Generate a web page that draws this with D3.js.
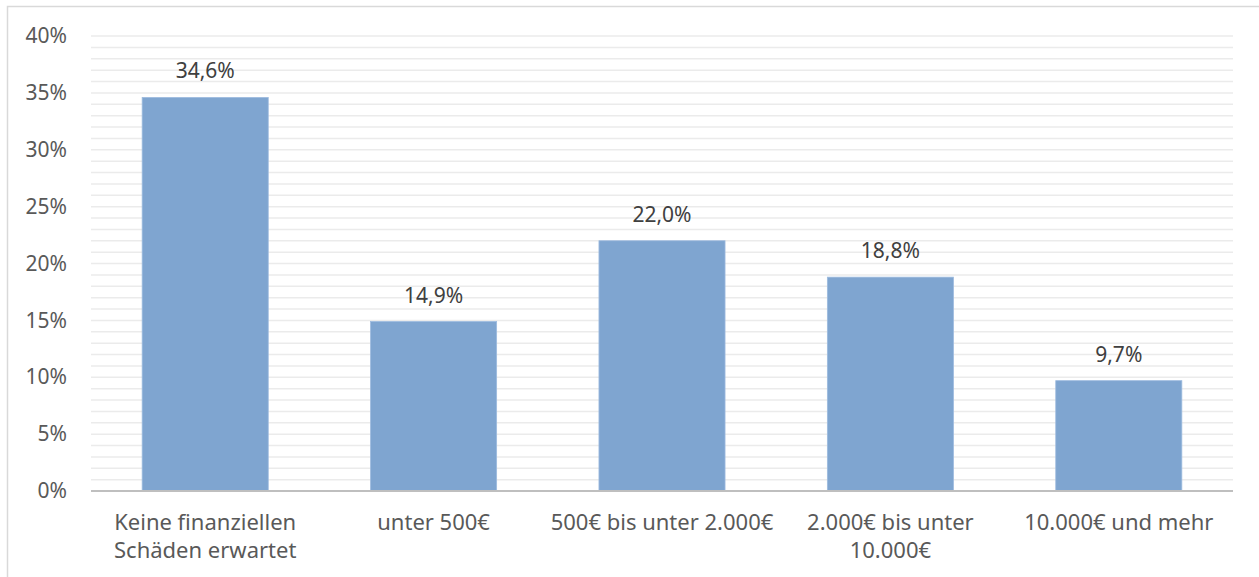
<!DOCTYPE html>
<html><head><meta charset="utf-8">
<script src="https://cdn.jsdelivr.net/npm/d3@7"></script>
<style>body{margin:0;background:#fff}svg{display:block}</style>
</head><body>
<script>
const categories = [["Keine finanziellen","Schäden erwartet"],["unter 500€"],["500€ bis unter 2.000€"],["2.000€ bis unter","10.000€"],["10.000€ und mehr"]];
const values = [34.6, 14.9, 22.0, 18.8, 9.7];
const valueLabels = ["34,6%","14,9%","22,0%","18,8%","9,7%"];
const yTicks = [0,5,10,15,20,25,30,35,40];

const W=1259,H=577;
const svg=d3.select("body").append("svg").attr("width",W).attr("height",H);
svg.append("rect").attr("x",7.5).attr("y",6.5).attr("width",W).attr("height",H).attr("fill","#fff").attr("stroke","#d9d9d9").attr("stroke-width",1.5);

const font="'Noto Sans', sans-serif";
const x=d3.scaleBand().domain(d3.range(categories.length)).range([91,1233]).paddingInner(0.448).paddingOuter(0.224);
const y=d3.scaleLinear().domain([0,40]).range([491,36]);

// gridlines every 1%
svg.append("g").selectAll("line").data(d3.range(1,41)).join("line")
 .attr("x1",91).attr("x2",1233).attr("y1",d=>y(d)).attr("y2",d=>y(d))
 .attr("stroke","#ebebeb").attr("stroke-width",1.5);

svg.append("g").selectAll("rect").data(values).join("rect")
 .attr("x",(d,i)=>x(i)).attr("width",x.bandwidth())
 .attr("y",d=>y(d)).attr("height",d=>y(0)-y(d))
 .attr("fill","#7fa5d0").attr("stroke","#9dbbdf").attr("stroke-width",0.8);

// axis line
svg.append("line").attr("x1",91).attr("x2",1233).attr("y1",y(0)).attr("y2",y(0)).attr("stroke","#bfbfbf").attr("stroke-width",2.2);

// y labels
const yAxis=d3.axisLeft(y).tickValues(yTicks).tickFormat(d=>d+"%").tickSize(0).tickPadding(0);
const ya=svg.append("g").attr("transform","translate(67,0)").call(yAxis);
ya.select(".domain").remove();
ya.selectAll("text").attr("font-family",font).attr("font-size",21).attr("fill","#595959");

// value labels
svg.append("g").selectAll("text").data(values).join("text")
 .attr("x",(d,i)=>x(i)+x.bandwidth()/2).attr("y",d=>y(d)-19)
 .attr("text-anchor","middle").attr("font-family",font).attr("font-size",21).attr("fill","#404040")
 .text((d,i)=>valueLabels[i]);

// x labels
const xl=svg.append("g").selectAll("text").data(categories).join("text")
 .attr("text-anchor","middle").attr("font-family",font).attr("font-size",22).attr("fill","#595959");
xl.each(function(d,i){
  d3.select(this).selectAll("tspan").data(d).join("tspan")
   .attr("x",x(i)+x.bandwidth()/2).attr("y",(t,j)=>530+j*28).text(t=>t);
});
</script>
</body></html>
